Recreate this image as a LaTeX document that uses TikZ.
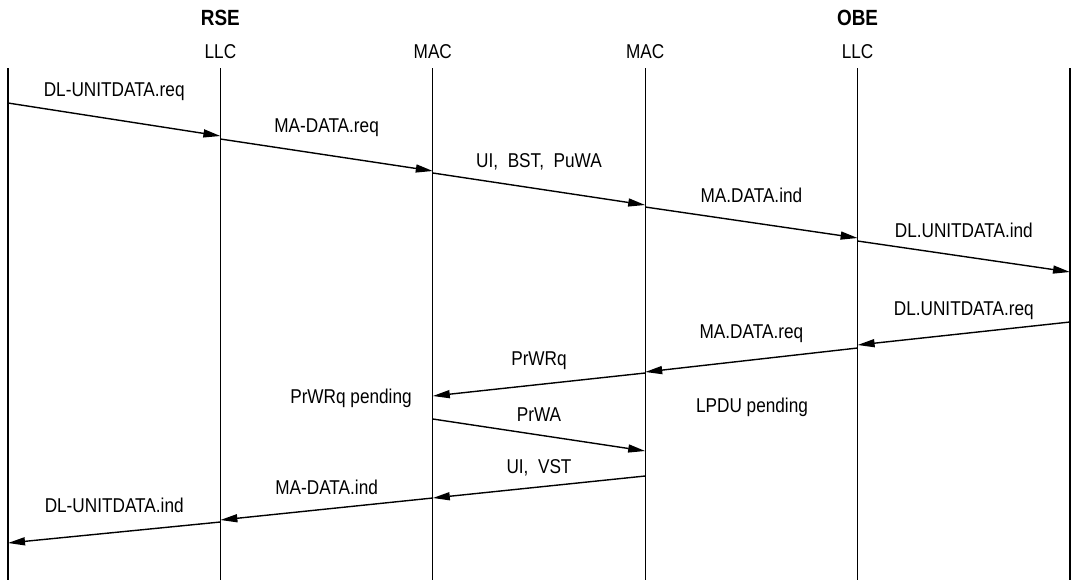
\documentclass[tikz,border=0pt]{standalone}
\usepackage{fontspec}
\setmainfont{Liberation Sans}[FakeStretch=0.86]
\usetikzlibrary{arrows.meta}

\begin{document}
\begin{tikzpicture}[x=1pt, y=-1pt,
    lifeline/.style={line width=1.3pt},
    msg/.style={line width=1.4pt, -{Triangle[length=17pt,width=8pt]}},
    lbl/.style={font=\fontsize{20}{23}\selectfont, inner sep=0pt},
    head/.style={font=\fontsize{22}{25}\selectfont\bfseries, inner sep=0pt}]
    % Define dimensions
    \def\laneleft{8}
    \def\lanegap{212.4}
    \def\lanetop{68}
    \def\lanebottom{580}

    \useasboundingbox (0,0) rectangle (1072,582);

    % Draw lifelines using foreach loop
    \foreach \i in {0,...,5} {
        \coordinate (top\i) at ({\laneleft+\i*\lanegap}, \lanetop);
        \coordinate (bot\i) at ({\laneleft+\i*\lanegap}, \lanebottom);
        \draw[lifeline] (top\i) -- (bot\i);
    }

    % Layer labels
    \node[lbl] (llc1) at ([yshift=16pt]top1) {LLC};
    \node[lbl] (mac2) at ([yshift=16pt]top2) {MAC};
    \node[lbl] (mac3) at ([yshift=16pt]top3) {MAC};
    \node[lbl] (llc4) at ([yshift=16pt]top4) {LLC};

    % Station labels
    \node[head] (rse) at ([yshift=50pt]top1) {RSE};
    \node[head] (obe) at ([yshift=50pt]top4) {OBE};

    % Messages: from lane / to lane / start y / end y / label shift / text
    \foreach \src/\dst/\ys/\ye/\dy/\txt [count=\n] in {
        0/1/103/136/28/{DL-UNITDATA.req},
        1/2/139/171/27/{MA-DATA.req},
        2/3/173/205/27/{UI,\ \ BST,\ \ PuWA},
        3/4/207/238/27/{MA.DATA.ind},
        4/5/241/272/26/{DL.UNITDATA.ind},
        5/4/322/345/23/{DL.UNITDATA.req},
        4/3/348/372/26/{MA.DATA.req},
        3/2/373/396/24/{PrWRq},
        2/3/419/451/20/{PrWA},
        3/2/476/498/19/{UI,\ \ VST},
        2/1/498/520/22/{MA-DATA.ind},
        1/0/522/543/27/{DL-UNITDATA.ind}} {
        \coordinate (s\n) at ({\laneleft+\src*\lanegap}, \ys);
        \coordinate (e\n) at ({\laneleft+\dst*\lanegap}, \ye);
        \draw[msg] (s\n) -- node[lbl, yshift=\dy pt] (m\n) {\txt} (e\n);
    }

    % Pending states
    \node[lbl] (prwrqpend) at (351,398) {PrWRq pending};
    \node[lbl] (lpdupend) at (752,407) {LPDU pending};

\end{tikzpicture}
\end{document}
